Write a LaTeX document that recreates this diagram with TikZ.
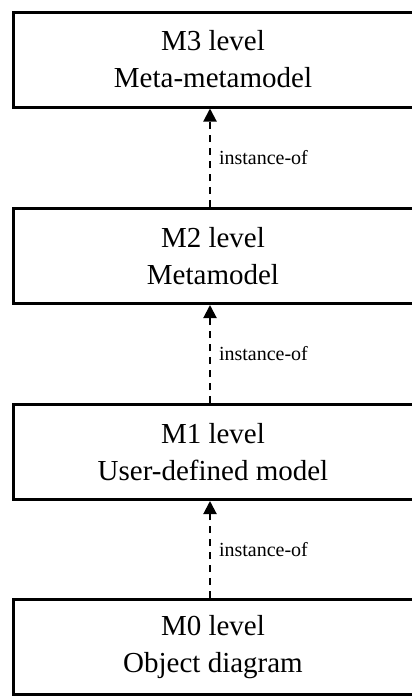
\documentclass[tikz,border=0pt]{standalone}
\usepackage{fontspec}
\setmainfont{Liberation Serif}
\usepackage{tikz}
\usetikzlibrary{arrows.meta}
\tikzset{every picture/.style={line width=3pt}}
\tikzset{
  levelbox/.style={draw, rectangle, minimum width=400pt, minimum height=95pt, inner sep=0pt, align=center, font=\fontsize{29}{37}\selectfont},
  instof/.style={dash pattern=on 7pt off 6pt, line width=2pt, -{Triangle[length=13pt,width=13pt]}},
  instlabel/.style={font=\fontsize{20}{24}\selectfont, inner sep=0pt, anchor=west, xshift=8pt}
}

\begin{document}
\begin{tikzpicture}[x=1pt,y=1pt,yscale=-1,xscale=1]
    \clip (0,0) rectangle (412,696);
    \draw (213,59.5) node [levelbox] (m3) {M3 level\\Meta-metamodel};
    \draw (213,256) node [levelbox] (m2) {M2 level\\Metamodel};
    \draw (213,452) node [levelbox] (m1) {M1 level\\User-defined model};
    \draw (213,647) node [levelbox] (m0) {M0 level\\Object diagram};
    \draw [instof] ([xshift=-3pt]m2.north) -- node [instlabel] {instance-of} ([xshift=-3pt]m3.south);
    \draw [instof] ([xshift=-3pt]m1.north) -- node [instlabel] {instance-of} ([xshift=-3pt]m2.south);
    \draw [instof] ([xshift=-3pt]m0.north) -- node [instlabel] {instance-of} ([xshift=-3pt]m1.south);
\end{tikzpicture}
\end{document}
